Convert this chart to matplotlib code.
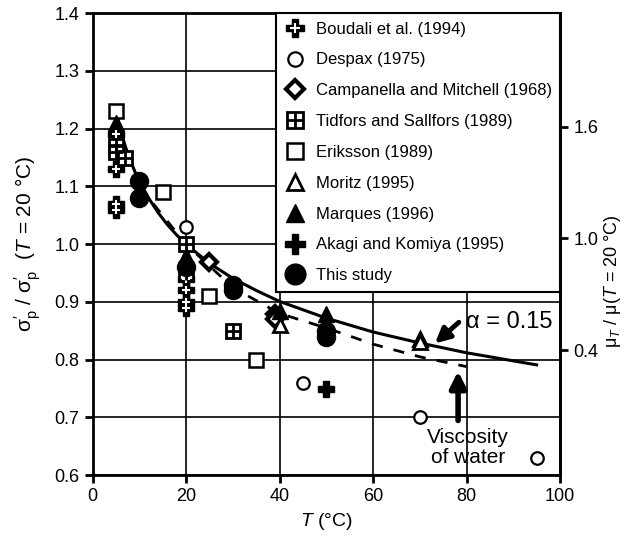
import matplotlib
matplotlib.use('Agg')
import matplotlib.pyplot as plt
from matplotlib.legend_handler import HandlerTuple

plt.rcParams['font.family'] = ['Liberation Sans', 'DejaVu Sans']
plt.rcParams['mathtext.fontset'] = 'custom'
plt.rcParams['mathtext.rm'] = 'Liberation Sans'
plt.rcParams['mathtext.it'] = 'Liberation Sans:italic'

# data
boudali_T = [5, 5, 5, 5, 20, 20, 20, 20]
boudali_r = [1.19, 1.13, 1.07, 1.06, 0.94, 0.92, 0.90, 0.89]

despax_T = [20, 45, 70, 95]
despax_r = [1.03, 0.76, 0.70, 0.63]

campanella_T = [25, 39, 39]
campanella_r = [0.97, 0.88, 0.87]

tidfors_T = [5, 5, 7, 20, 20, 30]
tidfors_r = [1.17, 1.16, 1.15, 1.00, 0.95, 0.85]

eriksson_T = [5, 15, 25, 35]
eriksson_r = [1.23, 1.09, 0.91, 0.80]

moritz_T = [40, 70, 70]
moritz_r = [0.86, 0.835, 0.83]

marques_T = [5, 5, 20, 20, 40, 50]
marques_r = [1.21, 1.20, 0.98, 0.97, 0.885, 0.88]

akagi_T = [50]
akagi_r = [0.75]

study_T = [10, 10, 20, 30, 30, 50, 50]
study_r = [1.11, 1.08, 0.96, 0.93, 0.92, 0.85, 0.84]

# fitted curve (alpha = 0.15)
fit_T = [5, 6, 7, 8, 9, 10, 12, 14, 16, 18, 20, 25, 30, 35, 40, 50, 60, 70, 80, 90, 95]
fit_r = [1.231, 1.197, 1.170, 1.147, 1.127, 1.109, 1.080, 1.055, 1.034, 1.016, 1.000,
         0.967, 0.941, 0.920, 0.901, 0.872, 0.848, 0.829, 0.812, 0.798, 0.791]

# viscosity of water (dashed)
visc_T = [10, 20, 30, 40, 50, 60, 70, 80]
visc_r = [1.10, 1.00, 0.925, 0.88, 0.855, 0.827, 0.805, 0.788]

fig = plt.figure(figsize=(6.25, 5.5), dpi=100)
ax = fig.add_axes([0.148, 0.136, 0.748, 0.840])

ax.plot(fit_T, fit_r, color='black', lw=2.2, zorder=3)
ax.plot(visc_T, visc_r, color='black', lw=2.0, dashes=(4, 4), zorder=3)

h_b1, = ax.plot(boudali_T, boudali_r, 'P', ms=11, mfc='black', mec='black', ls='none', zorder=4)
h_b2, = ax.plot(boudali_T, boudali_r, '+', ms=6, mec='white', mew=1.5, ls='none', zorder=5)
h_d, = ax.plot(despax_T, despax_r, 'o', ms=9, mfc='white', mec='black', mew=1.6, ls='none', zorder=4)
h_c, = ax.plot(campanella_T, campanella_r, 'D', ms=8, mfc='white', mec='black', mew=3, ls='none', zorder=4)
h_t1, = ax.plot(tidfors_T, tidfors_r, 's', ms=10, mfc='white', mec='black', mew=2, ls='none', zorder=4)
h_t2, = ax.plot(tidfors_T, tidfors_r, '+', ms=10, mec='black', mew=2, ls='none', zorder=5)
h_e, = ax.plot(eriksson_T, eriksson_r, 's', ms=10, mfc='white', mec='black', mew=1.8, ls='none', zorder=4)
h_mo, = ax.plot(moritz_T, moritz_r, '^', ms=10, mfc='white', mec='black', mew=2, ls='none', zorder=4)
h_ma, = ax.plot(marques_T, marques_r, '^', ms=11, mfc='black', mec='black', ls='none', zorder=4)
h_a, = ax.plot(akagi_T, akagi_r, 'P', ms=12, mfc='black', mec='black', ls='none', zorder=4)
h_s, = ax.plot(study_T, study_r, 'o', ms=13, mfc='black', mec='black', ls='none', zorder=4)

ax.set_xlim(0, 100)
ax.set_ylim(0.6, 1.4)
ax.set_xticks([0, 20, 40, 60, 80, 100])
ax.set_yticks([0.6, 0.7, 0.8, 0.9, 1.0, 1.1, 1.2, 1.3, 1.4])
ax.yaxis.set_major_formatter(plt.FormatStrFormatter('%.1f'))
ax.grid(True, color='black', lw=1.2)
ax.set_axisbelow(True)
for s in ax.spines.values():
    s.set_linewidth(2)
ax.tick_params(labelsize=13, width=2, length=6, direction='out')

ax.set_xlabel('$T$ (°C)', fontsize=14)
ax.set_ylabel("σ$^{\\prime}_{\\rm p}$ / σ$^{\\prime}_{\\rm p}$  ($T$ = 20 °C)", fontsize=15, labelpad=8)


def fwd(v):
    return 1 + (v - 1.01) * 3.1


def inv(v):
    return 1.01 + (v - 1) / 3.1


sec = ax.secondary_yaxis('right', functions=(fwd, inv))
sec.set_yticks([0.4, 1.0, 1.6])
sec.yaxis.set_major_formatter(plt.FormatStrFormatter('%.1f'))
sec.tick_params(labelsize=13, width=2, length=6)
sec.spines['right'].set_linewidth(2)
sec.set_ylabel('μ$_T$ / μ($T$ = 20 °C)', fontsize=13, labelpad=3)
sec.yaxis.label.set_y(0.42)

# annotations
ax.annotate('', xy=(72.8, 0.825), xytext=(78.8, 0.868),
            arrowprops=dict(arrowstyle='-|>', lw=3.5, color='black', mutation_scale=22))
ax.text(80, 0.865, 'α = 0.15', fontsize=17, va='center', ha='left')
ax.annotate('', xy=(78.2, 0.785), xytext=(78.2, 0.69),
            arrowprops=dict(arrowstyle='-|>', lw=4, color='black', mutation_scale=24))
ax.text(80.3, 0.648, 'Viscosity\nof water', fontsize=15, ha='center', va='center',
        linespacing=1.1)

leg = ax.legend([(h_b1, h_b2), h_d, h_c, (h_t1, h_t2), h_e, h_mo, h_ma, h_a, h_s],
                ['Boudali et al. (1994)', 'Despax (1975)', 'Campanella and Mitchell (1968)',
                 'Tidfors and Sallfors (1989)', 'Eriksson (1989)', 'Moritz (1995)',
                 'Marques (1996)', 'Akagi and Komiya (1995)', 'This study'],
                handler_map={tuple: HandlerTuple(ndivide=1, pad=0)},
                loc='upper right', borderaxespad=0, fontsize=12, labelspacing=0.95,
                handlelength=1.3, handletextpad=0.6, borderpad=0.5, fancybox=False,
                framealpha=1, edgecolor='black', markerscale=1.15)
leg.get_frame().set_linewidth(1.5)
leg.set_zorder(10)

fig.savefig('out.png', dpi=100)
